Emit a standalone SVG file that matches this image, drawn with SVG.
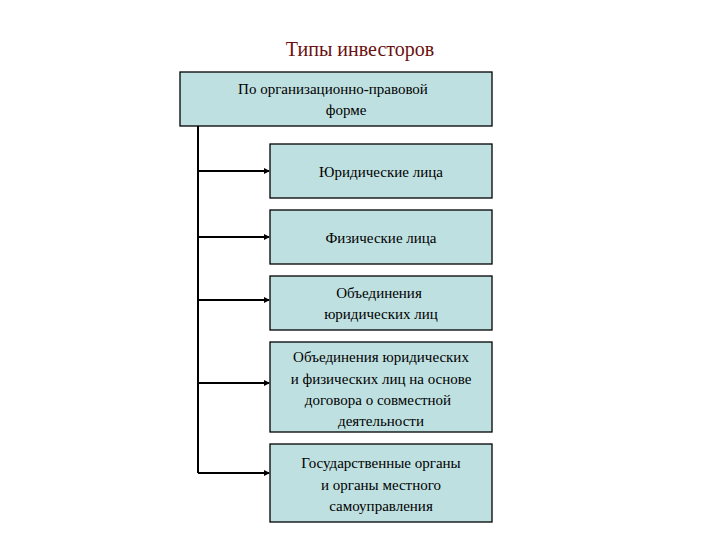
<svg xmlns="http://www.w3.org/2000/svg" width="720" height="540" viewBox="0 0 720 540">
<style>
.b{fill:#bfe0e0;stroke:#000;stroke-width:1.3}
text{font-family:"Liberation Serif",serif;font-size:15px;fill:#000;text-anchor:middle}
.c{stroke:#000;stroke-width:2;fill:none}
</style>
<defs><marker id="a" markerWidth="6" markerHeight="6" refX="5" refY="3" orient="auto" markerUnits="userSpaceOnUse"><path d="M0,0L6,3L0,6z" fill="#000"/></marker></defs>
<rect width="720" height="540" fill="#fff"/>
<text x="360" y="56" style="font-size:20px;fill:#6b1010">Типы инвесторов</text>
<g id="connectors">
<path class="c" d="M198,126V473"/>
<path class="c" d="M198,171H269" marker-end="url(#a)"/>
<path class="c" d="M198,237H269" marker-end="url(#a)"/>
<path class="c" d="M198,300H269" marker-end="url(#a)"/>
<path class="c" d="M198,383H269" marker-end="url(#a)"/>
<path class="c" d="M198,473H269" marker-end="url(#a)"/>
</g>
<g id="root"><rect class="b" x="180" y="72" width="312" height="54"/><text x="333" y="94">По организационно-правовой</text><text x="346" y="115">форме</text></g>
<g id="n1"><rect class="b" x="270" y="144" width="222" height="54"/><text x="381" y="177">Юридические лица</text></g>
<g id="n2"><rect class="b" x="270" y="210" width="222" height="54"/><text x="381" y="243">Физические лица</text></g>
<g id="n3"><rect class="b" x="270" y="276" width="222" height="54"/><text x="379" y="298">Объединения</text><text x="381" y="319">юридических лиц</text></g>
<g id="n4"><rect class="b" x="270" y="342" width="222" height="90"/><text x="381" y="362">Объединения юридических</text><text x="381" y="384">и физических лиц на основе</text><text x="378" y="405">договора о совместной</text><text x="381" y="426">деятельности</text></g>
<g id="n5"><rect class="b" x="270" y="444" width="222" height="78"/><text x="381" y="468">Государственные органы</text><text x="381" y="490">и органы местного</text><text x="381" y="511">самоуправления</text></g>
</svg>
